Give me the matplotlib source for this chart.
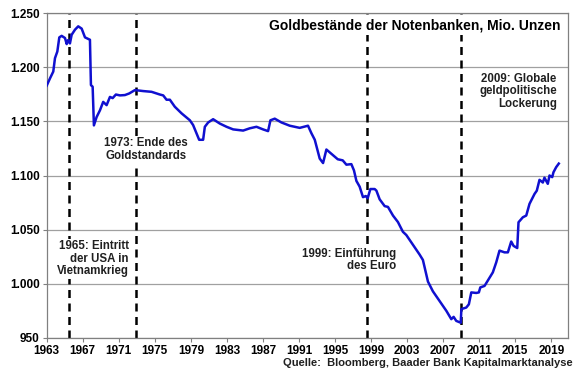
import numpy as np
import matplotlib.pyplot as plt

# Goldbestände der Notenbanken (Mio. Unzen)
jahre = [1963.00, 1963.37, 1963.73, 1963.92, 1964.18, 1964.40, 1964.66, 1965.03, 1965.22,
         1965.36, 1965.58, 1965.77, 1966.14, 1966.50, 1966.88, 1967.25, 1967.80, 1967.91,
         1968.10, 1968.24, 1968.54, 1968.91, 1969.27, 1969.65, 1970.02, 1970.32, 1970.68,
         1971.13, 1971.68, 1972.16, 1972.79, 1973.71, 1974.64, 1975.56,
         1975.93, 1976.30, 1976.67, 1977.22, 1977.97, 1978.89, 1979.25, 1979.63, 1979.92,
         1980.36, 1980.55, 1980.92, 1981.47, 1982.21, 1982.96, 1983.69, 1984.80, 1985.54,
         1986.28, 1987.01, 1987.57, 1987.83, 1988.31, 1989.05, 1989.97, 1991.08, 1992.00,
         1992.38, 1992.75, 1993.30, 1993.67, 1994.04, 1994.74, 1995.30, 1995.85, 1996.26,
         1996.81, 1997.10, 1997.37, 1997.73, 1998.10, 1998.40, 1998.62, 1998.92, 1999.40,
         1999.59, 1999.95, 2000.51, 2000.87, 2001.43, 2001.98, 2002.53, 2002.91, 2003.64,
         2004.38, 2004.75, 2005.31, 2005.86,
         2006.60, 2007.35, 2007.90, 2008.16, 2008.45, 2008.95, 2009.02, 2009.56, 2009.85,
         2010.12, 2010.67, 2010.96, 2011.12, 2011.59, 2011.96, 2012.51, 2012.89, 2013.25,
         2013.81, 2014.18, 2014.55, 2014.81, 2015.22, 2015.36, 2015.84, 2016.22, 2016.58,
         2017.14, 2017.39, 2017.69, 2018.06, 2018.24, 2018.61, 2018.80, 2019.10, 2019.24,
         2019.54, 2019.83]
bestand = [1183, 1189.8, 1196, 1208.4, 1214.5, 1227.6, 1229, 1227, 1221.4,
           1225, 1222, 1230, 1234.7, 1237.8, 1235.7, 1227.6, 1225.4, 1183.5,
           1182, 1146.3, 1154, 1160.2, 1168, 1165, 1172.6, 1171.5, 1174.8,
           1174, 1174.3, 1175.8, 1178.9, 1178, 1177.3, 1174.8,
           1174, 1170, 1170, 1163.5, 1157.4, 1151, 1146.6, 1139, 1133,
           1133, 1145, 1149, 1152, 1148, 1145, 1142.6, 1141.5, 1143.6,
           1145, 1142.6, 1141, 1151, 1152.5, 1149, 1146, 1144, 1146,
           1139, 1133, 1115.6, 1111.5, 1124, 1119, 1115, 1114, 1110,
           1110.5, 1104.7, 1095, 1089.7, 1080, 1081, 1079, 1087.5, 1087.5,
           1086, 1078, 1071.7, 1071, 1063, 1057, 1048, 1045, 1036,
           1027, 1022, 1002, 993,
           984, 975, 967.3, 969.4, 965.7, 964, 976.6, 978, 981,
           992, 991.5, 992, 996.6, 998, 1003, 1010.5, 1019.8, 1030.6,
           1029, 1029, 1039, 1035, 1033, 1056.8, 1061.4, 1063, 1073.8,
           1083, 1086, 1096, 1093.5, 1098, 1092.3, 1100, 1098.5, 1103,
           1107.7, 1111]

ereignis_jahre = [1965.47, 1972.90, 1998.59, 2008.93]
y_ticks = [950, 1000, 1050, 1100, 1150, 1200, 1250]
x_ticks = list(range(1963, 2020, 4))

def fmt_tausend(v):
    return f"{int(v):,}".replace(",", ".")

plt.rcParams['font.family'] = ['Liberation Sans', 'DejaVu Sans']

fig = plt.figure(figsize=(5.8, 3.75), dpi=100)
ax = fig.add_axes([0.0805, 0.099, 0.898, 0.866])

# Gitter
ax.set_axisbelow(True)
ax.yaxis.grid(True, color='#a0a0a0', linewidth=0.9)

# Ereignislinien (gestrichelt)
for xj in ereignis_jahre:
    ax.axvline(xj, color='black', linewidth=1.8, linestyle=(0, (3.2, 2.2)), zorder=2)

ax.plot(jahre, bestand, color='#1010d0', linewidth=1.8, zorder=4)

ax.set_xlim(1963, 2020.8)
ax.set_ylim(950, 1250)
ax.set_yticks(y_ticks)
ax.set_yticklabels([fmt_tausend(v) for v in y_ticks])
ax.set_xticks(x_ticks)
ax.set_xticklabels([str(j) for j in x_ticks])
for lab in ax.get_xticklabels() + ax.get_yticklabels():
    lab.set_fontweight('bold')
    lab.set_fontsize(8.5)
ax.tick_params(axis='both', length=3, color='#808080', width=0.8, pad=2)
for sp in ax.spines.values():
    sp.set_color('#808080')
    sp.set_linewidth(0.9)

# Beschriftungen mit weißem Hintergrund (unterbrechen die gestrichelten Linien)
bbox_weiss = dict(facecolor='white', edgecolor='none', pad=1)
ax.text(0.987, 0.963, 'Goldbestände der Notenbanken, Mio. Unzen', transform=ax.transAxes,
        ha='right', va='center', fontsize=10, fontweight='bold', zorder=3,
        bbox=dict(facecolor='white', edgecolor='none', pad=2))
ax.text(1974.0, 1124, '1973: Ende des\nGoldstandards', ha='center', va='center',
        fontsize=8.3, fontweight='bold', color='#202020', linespacing=1.05,
        bbox=bbox_weiss, zorder=3)
ax.text(1972.1, 1023, '1965: Eintritt\nder USA in\nVietnamkrieg', ha='right', va='center',
        fontsize=8.3, fontweight='bold', color='#202020', linespacing=1.05,
        bbox=bbox_weiss, zorder=3)
ax.text(2001.8, 1022, '1999: Einführung\ndes Euro', ha='right', va='center',
        fontsize=8.3, fontweight='bold', color='#202020', linespacing=1.05,
        bbox=bbox_weiss, zorder=3)
ax.text(2019.6, 1178, '2009: Globale\ngeldpolitische\nLockerung', ha='right', va='center',
        fontsize=8.3, fontweight='bold', color='#202020', linespacing=1.05,
        bbox=bbox_weiss, zorder=3)
fig.text(0.988, 0.032, 'Quelle:  Bloomberg, Baader Bank Kapitalmarktanalyse',
         ha='right', va='center', fontsize=8, fontweight='bold', color='#202020')

fig.savefig('out.png', dpi=100)
